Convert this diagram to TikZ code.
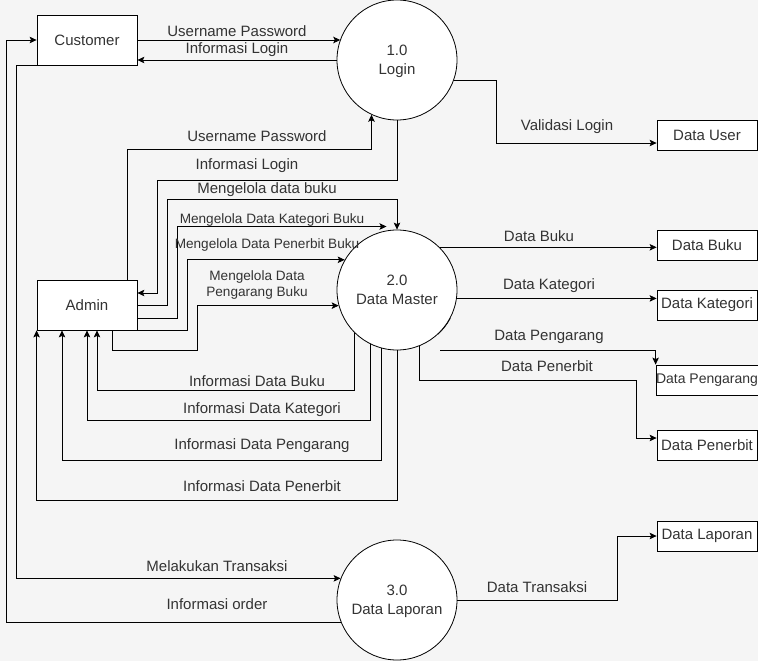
\documentclass[tikz,border=0pt]{standalone}
\usepackage{fontspec}
\setmainfont{Liberation Sans}
\usetikzlibrary{arrows.meta,calc}
\definecolor{bgc}{HTML}{F5F5F5}
\definecolor{txt}{HTML}{333333}
\newcommand\lblfont{\fontsize{15}{18.5}\selectfont}
\newcommand\smlfont{\fontsize{13.6}{16}\selectfont}
\begin{document}
\begin{tikzpicture}[x=1pt,y=-1pt,
  proc/.style={circle, draw=black, line width=0.8pt, fill=white, minimum size=120pt, inner sep=0pt, align=center, font=\lblfont, text=txt, text depth=-3.5pt},
  ent/.style={rectangle, draw=black, line width=0.8pt, fill=white, minimum width=100pt, minimum height=50pt, inner sep=0pt, font=\lblfont, text=txt},
  store/.style={ent, minimum height=30pt},
  lbl/.style={font=\lblfont, text=txt, inner sep=0pt},
  slbl/.style={font=\smlfont, text=txt, inner sep=0pt, align=center},
  flow/.style={draw=black, line width=0.8pt, -{Stealth[length=7pt,width=6.5pt,inset=1.5pt]}}
]
\fill[bgc] (0,0) rectangle (758,661);
\useasboundingbox (0,0) rectangle (758,661);

% nodes
\node[ent] (cust) at (87,40) {Customer};
\node[ent] (admin) at (87,305) {Admin};
\node[proc] (login) at (397,60) {1.0\\Login};
\node[proc] (dm) at (397,290) {2.0\\Data Master};
\node[proc] (lap) at (397,600) {3.0\\Data Laporan};
\node[store] (duser) at (707,135) {Data User};
\node[store] (dbuku) at (707,245) {Data Buku};
\node[store] (dkat) at (707,305) {Data Kategori};
\node[store, font=\fontsize{14}{17}\selectfont] (dpeng) at (707,380) {Data Pengarang};
\node[store] (dpen) at (707,445) {Data Penerbit};
\node[store] (dlap) at (707,536) {Data Laporan};

% Customer <-> Login
\draw[flow] (cust.east) -- (cust.east -| login.160);
\node[lbl] (l1) at (237,31) {Username Password};
\draw[flow] (login.west) -- (login.west -| cust.east);
\node[lbl] (l2) at (237,50) {Informasi Login};

% Login -> Data User
\draw[flow] (login.-20) -- ++(43,0) |- ($(duser.west)+(0,8)$);
\node[lbl] (l3) at (567,127) {Validasi Login};

% Admin <-> Login
\draw[flow] ($(admin.north east)+(-10,0)$) -- ++(0,-130) -| (login.245);
\node[lbl] (l4) at (257,136) {Username Password};
\draw[flow] (login.south) -- ++(0,60) -| ($(admin.east)+(20,-12)$) -- ($(admin.east)+(0,-12)$);
\node[lbl] (l5) at (247,166) {Informasi Login};

% Admin -> Data Master
\draw[flow] (admin.east) -- ++(30,0) |- ($(dm.north)+(0,-30)$) -- (dm.north);
\node[lbl] (l6) at (267,190) {Mengelola data buku};
\draw[flow] ($(admin.east)+(0,13)$) -- ++(40,0) |- ($(dm.100)+(0,-4)$);
\node[slbl] (l7) at (272,220) {Mengelola Data Kategori Buku};
\draw[flow] (admin.south east) -- ++(50,0) |- (dm.150);
\node[slbl] (l8) at (267,245) {Mengelola Data Penerbit Buku};
\draw[flow] ($(admin.south)+(25,0)$) -- ++(0,20) -- ++(85,0) |- (dm.195);
\node[slbl] (l9) at (257,285) {Mengelola Data\\Pengarang Buku};

% Data Master -> Admin
\draw[flow] (dm.225.6) |- ($(admin.south)+(10,60)$) -- ($(admin.south)+(10,0)$);
\node[lbl] (l10) at (257,381) {Informasi Data Buku};
\draw[flow] (dm.244.3) |- ($(admin.south)+(0,90)$) -- (admin.south);
\node[lbl] (l11) at (262,410) {Informasi Data Kategori};
\draw[flow] (dm.255.5) |- ($(admin.south)+(-25,130)$) -- ($(admin.south)+(-25,0)$);
\node[lbl] (l12) at (262,446) {Informasi Data Pengarang};
\draw[flow] (dm.south) |- ($(admin.south west)+(0,170)$) -- (admin.south west);
\node[lbl] (l13) at (262,486) {Informasi Data Penerbit};

% Data Master -> stores
\draw[flow] (dm.45) -- (dm.45 -| dbuku.west);
\node[lbl] (l14) at (539,236) {Data Buku};
\draw[flow] (dm.-8) -- (dm.-8 -| dkat.west);
\node[lbl] (l15) at (549,286) {Data Kategori};
\coordinate (pgs) at (440,350);
\draw[flow] (pgs) -| (dpeng.north west);
\node[lbl] (l16) at (549,337) {Data Pengarang};
\draw[flow] (dm.292.5) |- ($(dpen.west)+(-20,-65)$) |- ($(dpen.west)+(0,-7)$);
\node[lbl] (l17) at (547,366) {Data Penerbit};
\draw[line width=0.6pt] (dm.-28) arc[start angle=-28, end angle=-48, radius=59pt];

% Customer <-> Data Laporan
\draw[flow] (cust.south west) -- ++(-20,0) |- (lap.159.5);
\node[lbl] (l18) at (217,566) {Melakukan Transaksi};
\draw[flow] (lap.202.5) -| ($(cust.west)+(-30,0)$) -- (cust.west);
\node[lbl] (l19) at (217,604) {Informasi order};

% Data Laporan -> store
\draw[flow] (lap.east) -- ++(160,0) |- (dlap.west);
\node[lbl] (l20) at (537,587) {Data Transaksi};
\end{tikzpicture}
\end{document}
